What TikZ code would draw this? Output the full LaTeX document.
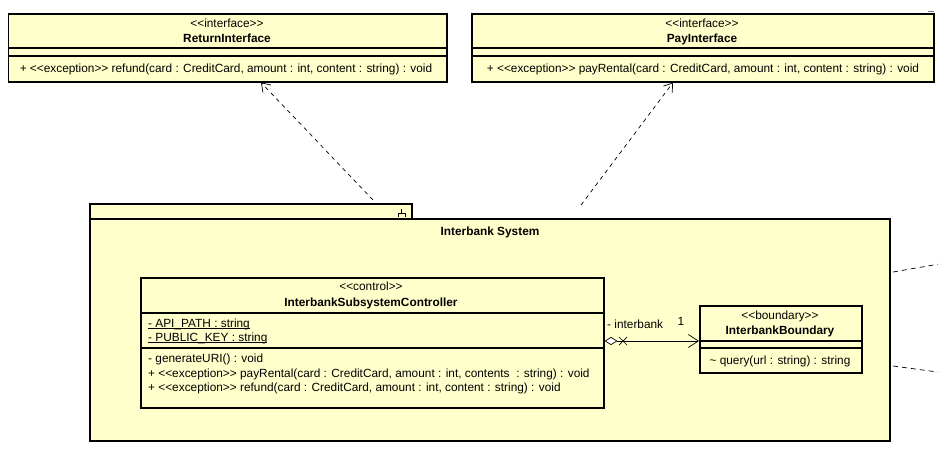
\documentclass[tikz,border=0pt]{standalone}
\usepackage{fontspec}
\setmainfont{Liberation Sans}
\usetikzlibrary{arrows.meta, calc}
\definecolor{umlfill}{HTML}{FFFFCC}
\newcommand{\stUnder}[1]{\underline{\smash{#1}}}

\begin{document}
\begin{tikzpicture}[x=1pt, y=-1pt,
		classbox/.style={draw, line width=1.5pt, fill=umlfill, rectangle, inner sep=0, anchor=north west},
		txt/.style={inner sep=0, text height=9pt, text depth=3pt, font=\fontsize{11.85}{14}\selectfont},
		bold/.style={txt, font=\fontsize{11.85}{14}\selectfont\bfseries},
		realize/.style={dash pattern=on 4pt off 4pt, line width=0.7pt, -{Straight Barb[length=8pt, width=11pt]}}]
		\useasboundingbox (0,0) rectangle (938,464);
		
		% package
		\draw[line width=1.5pt, fill=umlfill] (90,219) rectangle (890,441);
		\draw[line width=1.5pt, fill=umlfill] (90,204) rectangle (412,219);
		\draw[line width=0.7pt] (401.5,209) -- (401.5,213) (398,217) -- (398,213) -- (405,213) -- (405,217);
		\node[bold] (pkgname) at (490,232) {Interbank System};
		
		% interfaces
		\node[classbox, minimum width=438.5, minimum height=68] (ret) at (7.5,13) {};
		\draw[line width=1.5pt] (ret.north west) ++(0,35) -- ++(438.5,0) ++(-438.5,8) -- ++(438.5,0);
		\node[txt] (retst) at (227,24) {<{}<interface>{}>};
		\node[bold] (retname) at (227,39) {ReturnInterface};
		\node[txt] (retop) at (226,69) {+ <{}<exception>{}> refund(card : CreditCard, amount : int, content : string) : void};
		
		\node[classbox, minimum width=462, minimum height=68] (pay) at (471,13) {};
		\draw[line width=1.5pt] (pay.north west) ++(0,35) -- ++(462,0) ++(-462,8) -- ++(462,0);
		\node[txt] (payst) at (702,24) {<{}<interface>{}>};
		\node[bold] (payname) at (702,39) {PayInterface};
		\node[txt] (payop) at (703,69) {+ <{}<exception>{}> payRental(card : CreditCard, amount : int, content : string) : void};
		\draw[gray, line width=0.7pt] (928,11) -- (934,11);
		
		% controller
		\node[classbox, minimum width=463, minimum height=130] (ctrl) at (140,277) {};
		\draw[line width=1.5pt] (ctrl.north west) ++(0,36) -- ++(463,0) ++(-463,35) -- ++(463,0);
		\node[txt] (ctrlst) at (371,287) {<{}<control>{}>};
		\node[bold] (ctrlname) at (371,303) {InterbankSubsystemController};
		\node[txt, anchor=west] (attr1) at (148,324) {\stUnder{- API\_PATH : string}};
		\node[txt, anchor=west] (attr2) at (148,338) {\stUnder{- PUBLIC\_KEY : string}};
		\node[txt, anchor=west] (op1) at (148,359) {- generateURI() : void};
		\node[txt, anchor=west] (op2) at (148,374) {+ <{}<exception>{}> payRental(card : CreditCard, amount : int, contents\ \ : string) : void};
		\node[txt, anchor=west] (op3) at (148,388) {+ <{}<exception>{}> refund(card : CreditCard, amount : int, content : string) : void};
		
		% boundary
		\node[classbox, minimum width=162, minimum height=67] (bnd) at (699,305) {};
		\draw[line width=1.5pt] (bnd.north west) ++(0,36) -- ++(162,0) ++(-162,7) -- ++(162,0);
		\node[txt] (bndst) at (780,316) {<{}<boundary>{}>};
		\node[bold] (bndname) at (780,331) {InterbankBoundary};
		\node[txt] (bndop) at (780,361) {\textasciitilde{} query(url : string) : string};
		
		% connectors
		\coordinate (retfoot) at (373,200);
		\coordinate (payfoot) at (581,205);
		\draw[realize] (retfoot) -- ($(ret.south west)+(253.5,0)$);
		\draw[realize] (payfoot) -- ($(pay.south west)+(202,0)$);
		
		\draw[line width=0.7pt, {Diamond[length=13pt, width=8pt, fill=white]}-{Straight Barb[length=10pt, width=13pt]}] (ctrl.east |- 0,341) -- (bnd.west |- 0,341);
		\draw[line width=0.7pt] (619,337) -- (627,345) (619,345) -- (627,337);
		\node[txt, anchor=west] (role) at (607,325) {- interbank};
		\node[txt] (mult) at (681,322) {1};
		
		\coordinate (outA) at (945,263);
		\coordinate (outB) at (945,373);
		\draw[dash pattern=on 5pt off 4pt, line width=0.7pt] (893,272) -- (outA);
		\draw[dash pattern=on 5pt off 4pt, line width=0.7pt] (893,366) -- (outB);
\end{tikzpicture}
\end{document}
